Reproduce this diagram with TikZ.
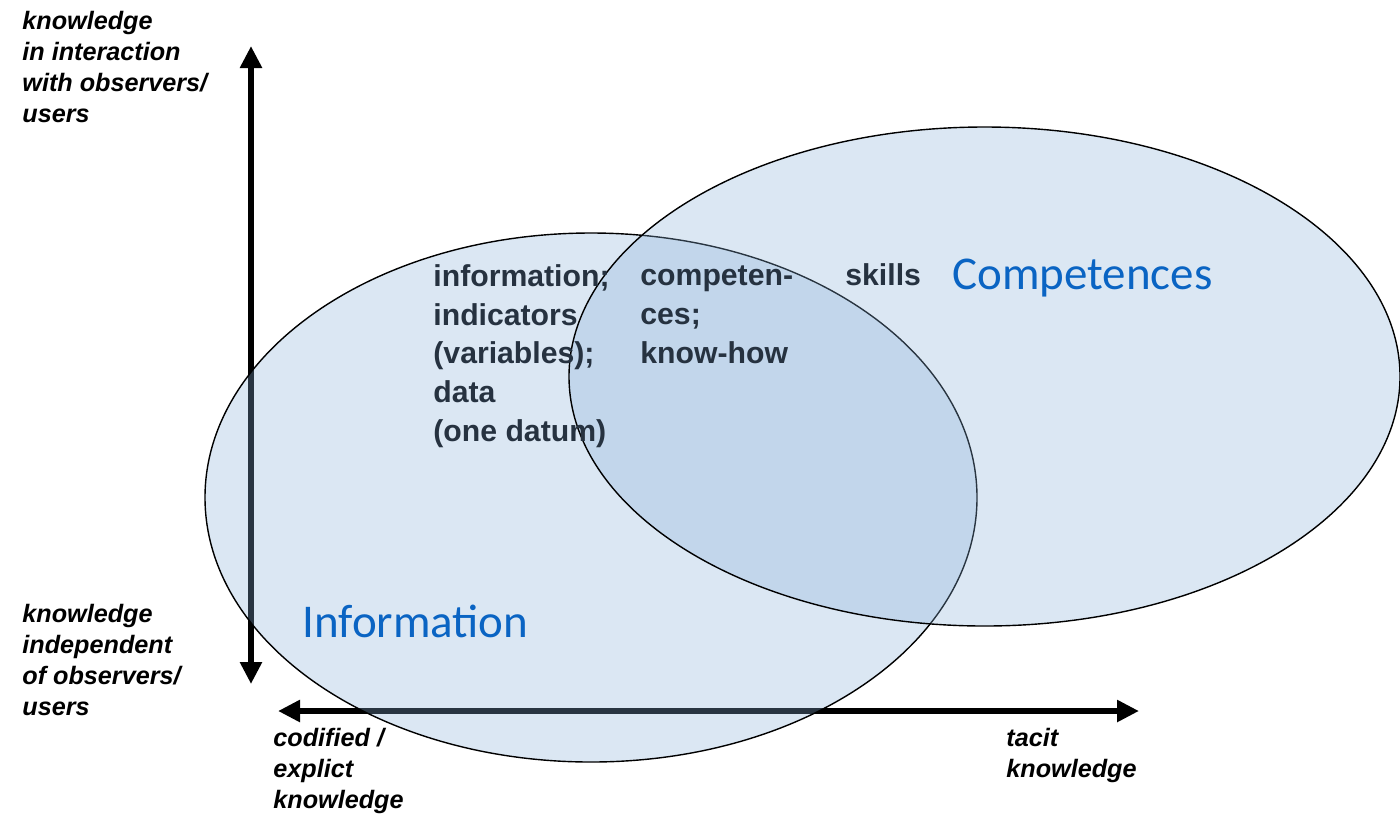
\documentclass[tikz,border=0pt]{standalone}
\usepackage{fontspec}
\usetikzlibrary{shapes.geometric, arrows.meta}
\newfontfamily\arialfont{Liberation Sans}
\newfontfamily\calibrifont{Carlito}
\definecolor{ovalfill}{RGB}{138,178,218}
\definecolor{ovaltext}{RGB}{10,100,195}
\definecolor{termtext}{RGB}{38,50,64}

\begin{document}
\begin{tikzpicture}[x = 0.5pt, y = -0.5pt,
        axis/.style = {line width = 3pt, {Triangle[width = 10.5pt, length = 11pt]}-{Triangle[width = 10.5pt, length = 11pt]}},
        axislabel/.style = {anchor = base west, inner sep = 0pt, align = left, font = \arialfont\bfseries\itshape\fontsize{12.6}{15.4}\selectfont},
        term/.style = {anchor = base west, inner sep = 0pt, align = left, text = termtext, font = \arialfont\bfseries\fontsize{15.1}{19.3}\selectfont},
        oval/.style = {ellipse, draw, line width = 0.7pt, fill = ovalfill, fill opacity = 0.3, inner sep = 0pt, outer sep = 0pt},
        title/.style = {anchor = base west, inner sep = 0pt, text = ovaltext, font = \calibrifont\fontsize{23.5}{28}\selectfont}]
            \fill[white] (0, 0) rectangle (1400, 815);
            \useasboundingbox (0, 0) rectangle (1400, 815);

            \coordinate (ytop) at (251, 46);
            \coordinate (ybottom) at (251, 684);
            \coordinate (xleft) at (278, 711);
            \coordinate (xright) at (1139, 711);
            \draw[axis] (ybottom) -- (ytop);
            \draw[axis] (xleft) -- (xright);

            % multi-line nodes sit on the baseline of their last line
            \node[axislabel] (upper) at (22, 122) {knowledge\\ in interaction\\ with observers/\\ users};
            \node[axislabel] (lower) at (22, 715) {knowledge\\ independent\\ of observers/\\ users};
            \node[axislabel] (codified) at (273, 808) {codified /\\ explict\\ knowledge};
            \node[axislabel] (tacit) at (1006, 777) {tacit\\ knowledge};

            \node[oval, minimum width = 386pt, minimum height = 264.5pt] (info) at (591, 497.5) {};
            \node[oval, minimum width = 415.5pt, minimum height = 249.5pt] (comp) at (984.5, 376.5) {};

            \node[term] (infoterms) at (433, 441) {information;\\ indicators\\ (variables);\\ data\\ (one datum)};
            \node[term] (compterms) at (640, 363) {competen-\\ ces;\\ know-how};
            \node[term] (skills) at (845, 285) {skills};

            \node[title] (infotitle) at (302, 637) {Information};
            \node[title] (comptitle) at (952, 289) {Competences};
        \end{tikzpicture}
\end{document}
